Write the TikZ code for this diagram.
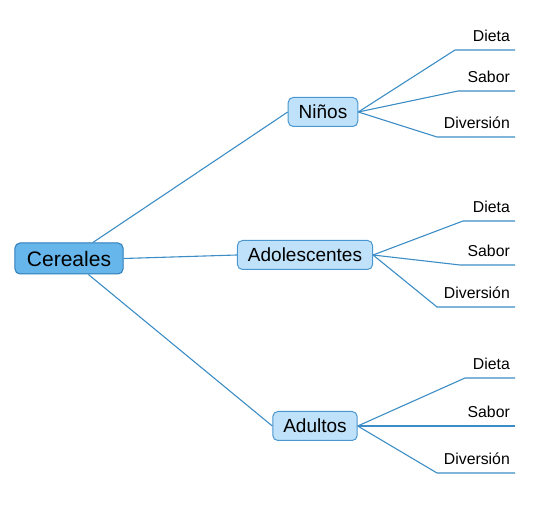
\documentclass[tikz,border=0pt]{standalone}
\usepackage{fontspec}
\setmainfont{Liberation Sans}
\usetikzlibrary{positioning}
\definecolor{linecol}{HTML}{3C8DC5}
\definecolor{rootfill}{HTML}{66B6EC}
\definecolor{rootdraw}{HTML}{2E7DB8}
\definecolor{midfill}{HTML}{BFE1F9}
\definecolor{middraw}{HTML}{4A96D0}
\tikzset{root/.style={draw=rootdraw,fill=rootfill,rounded corners=5pt,line width=1pt,
                      font=\fontsize{21}{24}\selectfont,inner xsep=12pt,minimum height=31pt},
         topic/.style={draw=middraw,fill=midfill,rounded corners=5pt,line width=1pt,
                       font=\fontsize{19}{22}\selectfont,inner xsep=10.5pt,minimum height=29pt},
         branch/.style={draw=linecol,line width=1.1pt},
         leaf/.style={font=\fontsize{15.8}{18}\selectfont,inner sep=0pt,anchor=base east,
                      xshift=-5pt,yshift=8pt},
         }
\begin{document}
\begin{tikzpicture}[x=1pt,y=-1pt]
\useasboundingbox (0,0) rectangle (552,510);
\node[root] (cer) at (69,258.5) {Cereales};
\node[topic] (nin) at (323,112) {Niños};
\node[topic] (ado) at (305,255) {Adolescentes};
\node[topic] (adu) at (315,426) {Adultos};
% main branches
\draw[branch] (cer) -- (nin.west);
\draw[branch] (cer.east) -- (ado.west);
\draw[branch] (cer) -- (adu.west);
% leaves with underlines
\foreach \p/\x/\y/\t [count=\i] in {nin/455/50/Dieta, nin/458/91/Sabor, nin/437/137/Diversión,
    ado/463/221/Dieta, ado/460/265/Sabor, ado/437/307/Diversión,
    adu/465/378/Dieta, adu/465/426/Sabor, adu/437/473/Diversión}
{
  \coordinate (k\i) at (\x,\y);
  \coordinate (e\i) at (515,\y);
  \draw[branch] (\p.east) -- (k\i) -- (e\i);
  \node[leaf] (l\i) at (e\i) {\t};
}
\end{tikzpicture}
\end{document}
